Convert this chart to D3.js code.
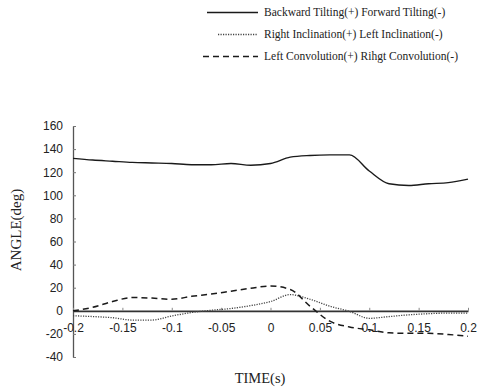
<!DOCTYPE html>
<html>
<head>
<meta charset="utf-8">
<script src="https://cdn.jsdelivr.net/npm/d3@7"></script>
<style>
	body { margin:0; background:#fff }
	svg { display:block }
</style>
</head>
<body>
<div id="chart"></div>
<script>

let time = [-0.2,-0.18,-0.16,-0.14,-0.12,-0.1,-0.08,-0.06,-0.04,-0.02,0,0.02,0.04,0.06,0.08,0.1,0.12,0.14,0.16,0.18,0.2]
let tilting     = [132,130.5,129.5,128.5,128,127.5,126.5,126.5,127.5,126,127.5,133,134.5,135,135,121,110,108.5,110,111,114]
let inclination = [-4.3,-5,-6,-8,-8,-4.5,-1.5,0.5,2,4.5,8,14,10,4,-0.5,-6.5,-5,-3.5,-2.5,-2,-2]
let convolution = [0,3,8,11.5,11,10,12.5,14.5,17,19.5,21.5,18.5,4,-9,-14,-16.5,-19,-19.5,-19.5,-20.5,-22]

let xTicks = [-0.2,-0.15,-0.1,-0.05,0,0.05,0.1,0.15,0.2]
let yTicks = [-40,-20,0,20,40,60,80,100,120,140,160]

let legendLabels = ['Backward Tilting(+) Forward Tilting(-)','Right Inclination(+) Left Inclination(-)','Left Convolution(+) Rihgt Convolution(-)']

let width = 477
let height = 388

let x = d3.scaleLinear().domain([-0.2,0.2]).range([73,468])
let y = d3.scaleLinear().domain([-40,160]).range([357,126])

let svg = d3.select('#chart').append('svg').attr('width',width).attr('height',height)

let series = [
	{values:tilting,     dash:null,      w:1.4, color:'#1a1a1a'},
	{values:inclination, dash:'1.2,1.3', w:1.3, color:'#444'},
	{values:convolution, dash:'6,4',     w:1.5, color:'#1a1a1a'}
]

let sans = '"Liberation Sans", Arial, sans-serif'
let serif = '"Liberation Serif", "Times New Roman", serif'
let hyphen = d => String(+d.toFixed(2))

// axes
let yAxis = d3.axisLeft(y).tickValues(yTicks).tickFormat(hyphen).tickSizeInner(-3).tickSizeOuter(0).tickPadding(10)
let gy = svg.append('g').attr('transform',`translate(${x(-0.2)},0)`).call(yAxis)
gy.select('.domain').attr('stroke','#555').attr('stroke-width',1.3)
gy.selectAll('.tick line').attr('stroke','#777')
gy.selectAll('text').attr('font-family',sans).attr('font-size',12).attr('fill','#222')

let xAxis = d3.axisBottom(x).tickValues(xTicks).tickFormat(hyphen).tickSizeInner(-3).tickSizeOuter(0).tickPadding(13)
let gx = svg.append('g').attr('transform',`translate(0,${y(0)})`).call(xAxis)
gx.select('.domain').attr('stroke','#333').attr('stroke-width',1.8)
gx.selectAll('.tick line').attr('stroke','#888')
gx.selectAll('text').attr('font-family',sans).attr('font-size',12).attr('fill','#222')

// series
let line = d3.line().x((d,i) => x(time[i])).y(d => y(d)).curve(d3.curveMonotoneX)

svg.selectAll('path.series')
	.data(series)
	.enter().append('path')
	.attr('class','series')
	.attr('d', d => line(d.values))
	.attr('fill','none')
	.attr('stroke', d => d.color)
	.attr('stroke-width', d => d.w)
	.attr('stroke-dasharray', d => d.dash)

// titles
svg.append('text')
	.attr('transform','translate(21,230) rotate(-90)')
	.attr('text-anchor','middle')
	.attr('font-family',serif)
	.attr('font-size',15).attr('fill','#222')
	.text('ANGLE(deg)')

svg.append('text')
	.attr('x',260).attr('y',383)
	.attr('text-anchor','middle')
	.attr('font-family',serif)
	.attr('font-size',14.5).attr('fill','#222')
	.text('TIME(s)')

// legend
let legend = svg.selectAll('g.legend')
	.data(series)
	.enter().append('g')
	.attr('class','legend')
	.attr('transform', (d,i) => `translate(0,${16 + i*22})`)

legend.append('line')
	.attr('x1', (d,i) => [207,218,203][i]).attr('x2',258)
	.attr('y1',-3.5).attr('y2',-3.5)
	.attr('stroke', d => d.color)
	.attr('stroke-width', d => d.w)
	.attr('stroke-dasharray', d => d.dash)

legend.append('text')
	.attr('x',264).attr('y',0)
	.attr('font-family',serif)
	.attr('font-size',11.5).attr('fill','#222')
	.text((d,i) => legendLabels[i])

</script>
</body>
</html>
